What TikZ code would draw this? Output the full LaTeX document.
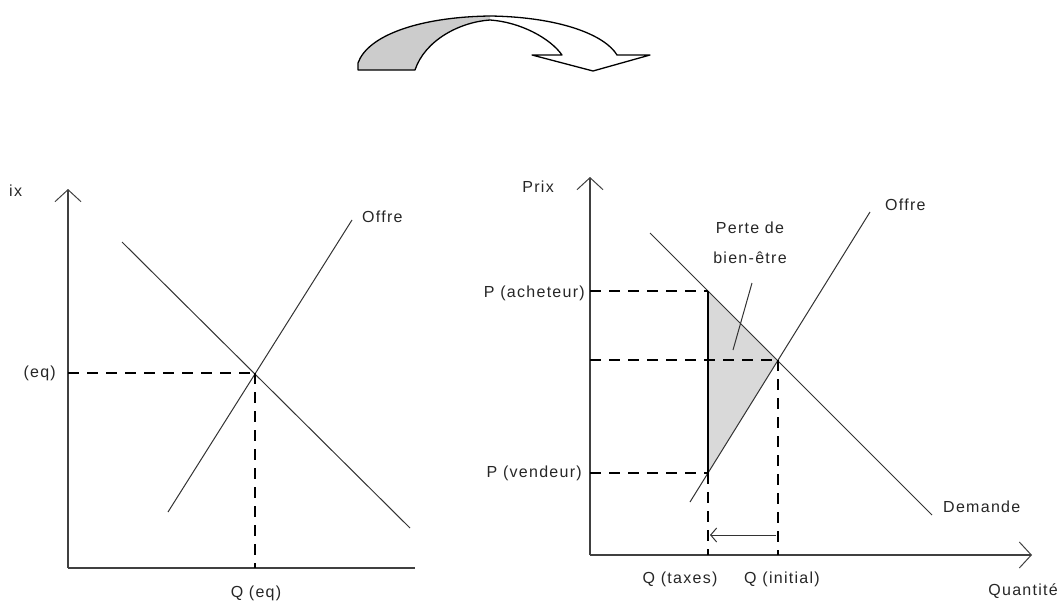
\documentclass[tikz,border=0pt]{standalone}
\usepackage{fontspec}
\setmainfont[LetterSpace=8]{Liberation Sans}
\usetikzlibrary{arrows.meta}
\begin{document}
\begin{tikzpicture}[x=1pt,y=-1pt,
  lbl/.style={font=\fontsize{16}{19}\selectfont, inner sep=0pt, text=black!85},
  curve/.style={draw=black!80, line width=1pt},
  axis/.style={draw=black!75, line width=1.3pt},
  guide/.style={draw=black, line width=1.4pt, dash pattern=on 11pt off 8pt},
  barb/.style={-{Straight Barb[length=12pt,width=26pt,line width=1pt]}},
  smallbarb/.style={-{Straight Barb[length=6pt,width=14pt,line width=1pt]}}]
\useasboundingbox (0,0) rectangle (1061,605);

% ---- top curved arrow ----
\fill[gray!40] (358,70) -- (358,63) .. controls (368,35) and (420,17) .. (490,16)
  -- (490,20) .. controls (460,22) and (425,40) .. (415,70) -- cycle;
\draw[line width=1.3pt, line join=round]
  (358,70) -- (358,63) .. controls (368,35) and (420,17) .. (490,16)
  .. controls (560,17) and (605,35) .. (617,55) -- (650,55) -- (593,71) -- (532,55) -- (562,55)
  .. controls (550,38) and (520,22) .. (490,20)
  .. controls (460,22) and (425,40) .. (415,70) -- cycle;

% ---- left chart ----
\coordinate (LO) at (68,568);
\coordinate (LYT) at (68,189);
\coordinate (LXE) at (415,568);
\coordinate (LD1) at (122,242);
\coordinate (LD2) at (410,528);
\coordinate (LS1) at (168,512);
\coordinate (LS2) at (352,220);
\coordinate (LE) at (255,373);
\coordinate (LP) at (68,373);
\coordinate (LQ) at (255,568);
\draw[axis, barb] (LO) -- (LYT);
\draw[axis] (LO) -- (LXE);
\draw[curve] (LD1) -- (LD2);
\draw[curve] (LS1) -- (LS2);
\draw[guide] (LP) -- (LE);
\draw[guide] (LE) -- (LQ);
\node[lbl, anchor=west] (lprix) at (9,191) {ix};
\node[lbl, anchor=east] (lpeq) at (56,373) {(eq)};
\node[lbl, anchor=west] (loffre) at (362,217) {Offre};
\node[lbl] (lqeq) at (256,593) {Q (eq)};

% ---- right chart ----
\coordinate (RO) at (590,555);
\coordinate (RYT) at (590,177);
\coordinate (RXE) at (1032,555);
\coordinate (RD1) at (650,233);
\coordinate (RD2) at (932,515);
\coordinate (RS1) at (690,502);
\coordinate (RS2) at (870,212);
\coordinate (RE) at (778,360);
\coordinate (RA) at (708,291);
\coordinate (RV) at (708,473);
\coordinate (RPA) at (590,291);
\coordinate (RPV) at (590,473);
\coordinate (RPE) at (590,360);
\coordinate (RQT) at (708,555);
\coordinate (RQI) at (778,555);
\coordinate (RArS) at (776,535);
\coordinate (RArE) at (710,535);
\coordinate (RPt1) at (752,283);
\coordinate (RPt2) at (733,350);

\fill[gray!30] (RA) -- (RE) -- (RV) -- cycle;
\draw[axis, barb] (RO) -- (RYT);
\draw[axis, barb] (RO) -- (RXE);
\draw[curve] (RD1) -- (RD2);
\draw[curve] (RS1) -- (RS2);
\draw[black, line width=1.5pt] (RA) -- (RV);
\draw[guide] (RPA) -- (RA);
\draw[guide] (RPV) -- (RV);
\draw[guide, line width=1.1pt] (RPE) -- (RE);
\draw[guide] (RV) -- (RQT);
\draw[guide] (RE) -- (RQI);
\draw[curve, smallbarb] (RArS) -- (RArE);
\draw[curve] (RPt1) -- (RPt2);

\node[lbl, anchor=east] (rprix) at (554,187) {Prix};
\node[lbl, anchor=east] (rpa) at (585,293) {P (acheteur)};
\node[lbl, anchor=east] (rpv) at (582,473) {P (vendeur)};
\node[lbl] (rqt) at (680,579) {Q (taxes)};
\node[lbl] (rqi) at (782,579) {Q (initial)};
\node[lbl, anchor=east] (rquant) at (1058,591) {Quantité};
\node[lbl, anchor=west] (rdem) at (943,507) {Demande};
\node[lbl, anchor=west] (roffre) at (885,205) {Offre};
\node[lbl, align=center, font=\fontsize{16}{30}\selectfont] (rperte) at (750,243) {Perte de\\bien-être};
\end{tikzpicture}
\end{document}
